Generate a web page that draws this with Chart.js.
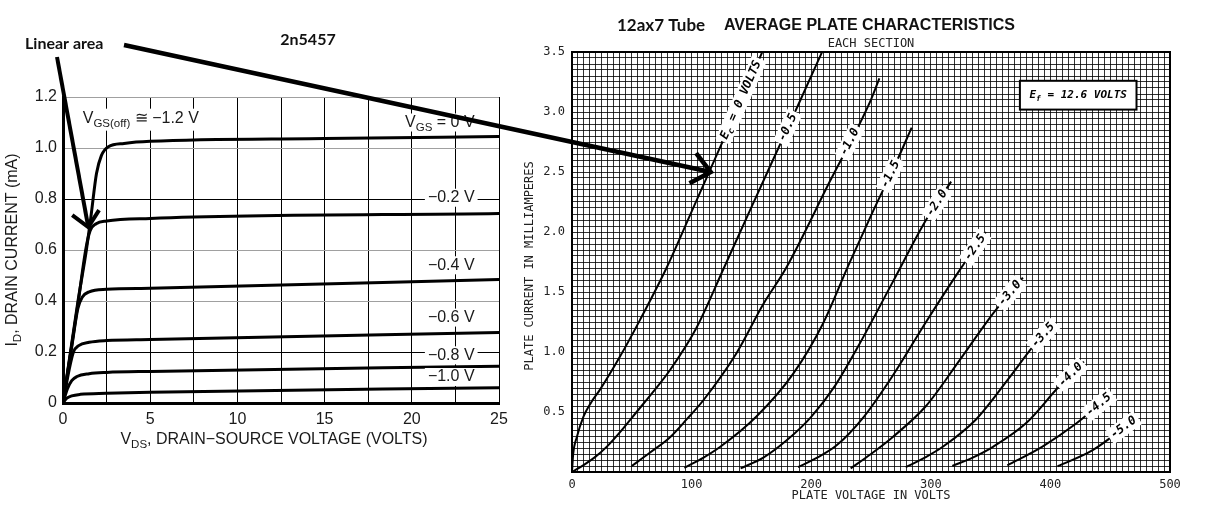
<!DOCTYPE html>
<html>
<head>
<meta charset="utf-8">
<title>2n5457 vs 12ax7</title>
<script src="https://cdn.jsdelivr.net/npm/chart.js@4.4.1/dist/chart.umd.min.js"></script>
<style>
  html, body { margin: 0; padding: 0; background: #fff; }
  #wrap { position: relative; width: 1213px; height: 514px; overflow: hidden; }
  #fetChart { position: absolute; left: 0; top: 0; }
  #tubeChart { position: absolute; left: 520px; top: 0; }
  #overlay { position: absolute; left: 0; top: 0; pointer-events: none; }
</style>
</head>
<body>
<div id="wrap">
  <canvas id="fetChart" width="520" height="514"></canvas>
  <canvas id="tubeChart" width="693" height="514"></canvas>
  <canvas id="overlay" width="1213" height="514"></canvas>
</div>
<script>
// 2n5457 JFET: drain current (mA) against V_DS (volts), one curve per V_GS
const fetVgs = ['0 V', '−0.2 V', '−0.4 V', '−0.6 V', '−0.8 V', '−1.0 V'];
const fetVgs00 = [[0, 0], [0.86, 0.4], [1.34, 0.6], [1.6, 0.73], [1.92, 0.9], [2.2, 0.97], [2.6, 1.005], [3.5, 1.018], [5, 1.026], [15, 1.037], [25, 1.045]];
const fetVgs02 = [[0, 0], [0.86, 0.39], [1.3, 0.6], [1.55, 0.675], [1.9, 0.703], [2.5, 0.714], [5, 0.724], [25, 0.743]];
const fetVgs04 = [[0, 0], [0.5, 0.22], [0.85, 0.37], [1.1, 0.415], [1.5, 0.436], [2.5, 0.446], [5, 0.45], [25, 0.484]];
const fetVgs06 = [[0, 0], [0.35, 0.13], [0.6, 0.2], [0.9, 0.225], [1.5, 0.238], [2.5, 0.245], [5, 0.249], [25, 0.276]];
const fetVgs08 = [[0, 0], [0.25, 0.055], [0.5, 0.088], [0.8, 0.104], [1.5, 0.115], [2.5, 0.12], [5, 0.124], [25, 0.144]];
const fetVgs10 = [[0, 0], [0.2, 0.018], [0.5, 0.028], [1, 0.034], [2.5, 0.038], [5, 0.042], [25, 0.06]];
const fetLabelY = [1.10, 0.805, 0.54, 0.335, 0.187, 0.102];   // where the V_GS labels sit (mA)
const fetXTicks = [0, 5, 10, 15, 20, 25];

// 12ax7: plate current (mA) against plate voltage, one curve per grid voltage
const tubeEc = ['0', '-0.5', '-1.0', '-1.5', '-2.0', '-2.5', '-3.0', '-3.5', '-4.0', '-4.5', '-5.0'];
const tubeEc00 = [[0, 0], [1, 0.15], [4, 0.29], [9.5, 0.46], [16, 0.58], [23, 0.68], [40, 0.96], [57, 1.27], [79, 1.7], [100, 2.17], [120, 2.62], [140, 3.07], [160, 3.52]];
const tubeEc05 = [[0, 0], [10, 0.06], [20, 0.13], [30, 0.22], [40, 0.33], [54, 0.5], [68, 0.67], [82, 0.85], [104, 1.2], [127, 1.7], [147, 2.14], [168, 2.6], [191, 3.1], [210, 3.52]];
const tubeEc10 = [[50, 0.05], [65, 0.16], [82, 0.29], [96, 0.44], [110, 0.6], [137.5, 0.99], [160, 1.4], [179, 1.7], [215, 2.41], [249, 3.08], [257, 3.28]];
const tubeEc15 = [[94, 0.035], [110, 0.12], [124, 0.21], [154, 0.46], [185, 0.82], [210, 1.24], [231, 1.72], [252, 2.18], [272, 2.6], [284, 2.87]];
const tubeEc20 = [[141, 0.03], [160, 0.12], [179, 0.26], [200, 0.46], [220, 0.72], [240, 1.06], [268, 1.58], [296, 2.1], [317, 2.42]];
const tubeEc25 = [[189, 0.04], [205, 0.12], [221, 0.22], [244, 0.46], [268, 0.8], [296, 1.25], [324, 1.68], [346, 2.0]];
const tubeEc30 = [[233, 0.03], [250, 0.15], [268, 0.29], [296, 0.55], [324, 0.93], [352, 1.32], [377, 1.62]];
const tubeEc35 = [[279, 0.04], [295, 0.12], [310, 0.21], [338, 0.44], [366, 0.79], [385, 1.04], [403, 1.24]];
const tubeEc40 = [[318, 0.05], [335, 0.12], [352, 0.21], [380, 0.41], [407, 0.71], [428, 0.92]];
const tubeEc45 = [[364, 0.056], [393, 0.21], [421, 0.4], [449, 0.63]];
const tubeEc50 = [[406, 0.048], [435, 0.18], [468, 0.42]];
const tubeLabelAt = [3.1, 2.87, 2.75, 2.48, 2.24, 1.87, 1.49, 1.14, 0.81, 0.56, 0.37];  // mA where each label sits on its curve

const fetCurves = [fetVgs00, fetVgs02, fetVgs04, fetVgs06, fetVgs08, fetVgs10];
const tubeCurves = [tubeEc00, tubeEc05, tubeEc10, tubeEc15, tubeEc20, tubeEc25, tubeEc30, tubeEc35, tubeEc40, tubeEc45, tubeEc50];

const armFont = '"Liberation Sans", Arial, sans-serif';
const monoFont = '"DejaVu Sans Mono", monospace';
const headFont = 'Lato, "Open Sans", sans-serif';

// text with subscripts: runs = [[text, isSub], ...]
function runsWidth(ctx, runs, size, style, family) {
  let w = 0;
  runs.forEach(r => {
    ctx.font = style + (r[1] ? size * 0.72 : size) + 'px ' + family;
    w += ctx.measureText(r[0]).width;
  });
  return w;
}
function drawRuns(ctx, runs, x, y, size, style, family, align) {
  const total = runsWidth(ctx, runs, size, style, family);
  let cx = align === 'center' ? x - total / 2 : align === 'right' ? x - total : x;
  ctx.textAlign = 'left';
  ctx.textBaseline = 'middle';
  runs.forEach(r => {
    ctx.font = style + (r[1] ? size * 0.72 : size) + 'px ' + family;
    ctx.fillText(r[0], cx, y + (r[1] ? size * 0.32 : 0));
    cx += ctx.measureText(r[0]).width;
  });
  return total;
}
function whiteBox(ctx, x, y, w, h) {
  ctx.fillStyle = '#fff';
  ctx.fillRect(x, y, w, h);
}

const fetText = {
  id: 'fetText',
  afterDatasetsDraw(chart) {
    const { ctx, scales: { x, y }, chartArea } = chart;
    ctx.save();
    // curve labels
    const right = x.getPixelForValue(23.6);
    fetLabelY.forEach((v, i) => {
      const py = y.getPixelForValue(v);
      const runs = i === 0 ? [['V', 0], ['GS', 1], [' = 0 V', 0]] : [[fetVgs[i], 0]];
      const w = runsWidth(ctx, runs, 16, '', armFont);
      whiteBox(ctx, right - w - 3, py - 9, w + 6, 18);
      ctx.fillStyle = '#1a1a1a';
      drawRuns(ctx, runs, right, py, 16, '', armFont, 'right');
    });
    const offRuns = [['V', 0], ['GS(off)', 1], [' ≅ −1.2 V', 0]];
    const ox = x.getPixelForValue(1.13), oy = y.getPixelForValue(1.115);
    const ow = runsWidth(ctx, offRuns, 16, '', armFont);
    whiteBox(ctx, ox - 2, oy - 10, ow + 4, 22);
    ctx.fillStyle = '#1a1a1a';
    drawRuns(ctx, offRuns, ox, oy, 16, '', armFont, 'left');

    // axis titles
    drawRuns(ctx, [['V', 0], ['DS', 1], [', DRAIN−SOURCE VOLTAGE (VOLTS)', 0]], 274, 440, 16, '', armFont, 'center');
    ctx.translate(13, (chartArea.top + chartArea.bottom) / 2);
    ctx.rotate(-Math.PI / 2);
    drawRuns(ctx, [['I', 0], ['D', 1], [', DRAIN CURRENT (mA)', 0]], 0, 0, 16, '', armFont, 'center');
    ctx.restore();

    ctx.save();
    ctx.fillStyle = '#111';
    ctx.font = 'bold 16px ' + headFont;
    ctx.textAlign = 'center';
    ctx.textBaseline = 'middle';
    ctx.fillText('2n5457', 308, 40);
    ctx.restore();
  }
};

const tubeText = {
  id: 'tubeText',
  afterDatasetsDraw(chart) {
    const { ctx, scales: { x, y }, chartArea } = chart;
    ctx.save();
    ctx.strokeStyle = '#000';
    ctx.lineWidth = 2;
    ctx.strokeRect(chartArea.left, chartArea.top, chartArea.right - chartArea.left, chartArea.bottom - chartArea.top);

    // labels written along each curve
    tubeCurves.forEach((pts, i) => {
      const yv = tubeLabelAt[i];
      let k = 1;
      while (k < pts.length - 1 && pts[k][1] < yv) k++;
      const a = pts[k - 1], b = pts[k];
      const xv = a[0] + (yv - a[1]) / (b[1] - a[1]) * (b[0] - a[0]);
      const ang = Math.atan2(y.getPixelForValue(b[1]) - y.getPixelForValue(a[1]),
                             x.getPixelForValue(b[0]) - x.getPixelForValue(a[0]));
      const runs = i === 0 ? [['E', 0], ['c', 1], [' = 0 VOLTS', 0]] : [[tubeEc[i], 0]];
      ctx.save();
      ctx.translate(x.getPixelForValue(xv), y.getPixelForValue(yv));
      ctx.rotate(ang);
      const w = runsWidth(ctx, runs, 12, 'italic bold ', monoFont);
      whiteBox(ctx, -w / 2 - 3, -8, w + 6, 16);
      ctx.fillStyle = '#000';
      drawRuns(ctx, runs, 0, 0, 12, 'italic bold ', monoFont, 'center');
      ctx.restore();
    });

    // filament box
    const bx0 = x.getPixelForValue(374.5), bx1 = x.getPixelForValue(472);
    const by0 = y.getPixelForValue(3.26), by1 = y.getPixelForValue(3.02);
    whiteBox(ctx, bx0, by0, bx1 - bx0, by1 - by0);
    ctx.lineWidth = 2;
    ctx.strokeRect(bx0, by0, bx1 - bx0, by1 - by0);
    ctx.fillStyle = '#000';
    drawRuns(ctx, [['E', 0], ['f', 1], [' = 12.6 VOLTS', 0]], (bx0 + bx1) / 2, (by0 + by1) / 2, 11, 'italic bold ', monoFont, 'center');

    // titles
    ctx.fillStyle = '#222';
    ctx.font = '12px ' + monoFont;
    ctx.textAlign = 'center';
    ctx.textBaseline = 'middle';
    const midX = (chartArea.left + chartArea.right) / 2;
    ctx.fillText('PLATE VOLTAGE IN VOLTS', midX, 496);
    ctx.fillText('EACH SECTION', midX, 44);
    ctx.save();
    ctx.translate(10, (chartArea.top + chartArea.bottom) / 2 + 4);
    ctx.rotate(-Math.PI / 2);
    ctx.fillText('PLATE CURRENT IN MILLIAMPERES', 0, 0);
    ctx.restore();

    ctx.fillStyle = '#111';
    ctx.textAlign = 'left';
    ctx.font = 'bold 17px ' + headFont;
    ctx.fillText('12ax7 Tube', 97, 26);
    ctx.font = 'bold 16px ' + armFont;
    ctx.fillText('AVERAGE PLATE CHARACTERISTICS', 204, 26);
    ctx.restore();
  }
};

const fetChart = new Chart(document.getElementById('fetChart'), {
  type: 'line',
  data: {
    datasets: fetCurves.map((c, i) => ({
      label: fetVgs[i],
      data: c.map(p => ({ x: p[0], y: p[1] })),
      borderColor: '#000',
      borderWidth: 3,
      pointRadius: 0,
      fill: false,
      cubicInterpolationMode: 'monotone'
    }))
  },
  options: {
    responsive: false,
    animation: false,
    events: [],
    layout: { padding: { top: 97, right: 21, left: 0, bottom: 0 } },
    plugins: { legend: { display: false }, tooltip: { enabled: false } },
    scales: {
      x: {
        type: 'linear', min: 0, max: 25,
        afterFit: s => { s.height = 111; },
        ticks: {
          stepSize: 2.5, autoSkip: false, maxRotation: 0, padding: 7,
          color: '#1a1a1a', font: { family: armFont, size: 16 },
          callback: v => (fetXTicks.includes(v) ? v : '')
        },
        grid: { color: '#000', lineWidth: 1, drawTicks: false },
        border: { color: '#000', width: 3 }
      },
      y: {
        min: 0, max: 1.2,
        afterFit: s => { s.width = 63; },
        ticks: {
          stepSize: 0.2, padding: 6,
          color: '#1a1a1a', font: { family: armFont, size: 16 },
          callback: v => (v === 0 ? '0' : v.toFixed(1))
        },
        grid: {
          drawTicks: false, lineWidth: 1,
          color: c => ([0.2, 0.8].some(t => Math.abs(c.tick.value - t) < 1e-6) ? '#000' : '#a0a0a0')
        },
        border: { color: '#000', width: 3 }
      }
    }
  },
  plugins: [fetText]
});

const tubeChart = new Chart(document.getElementById('tubeChart'), {
  type: 'line',
  data: {
    datasets: tubeCurves.map((c, i) => ({
      label: tubeEc[i],
      data: c.map(p => ({ x: p[0], y: p[1] })),
      borderColor: '#000',
      borderWidth: 2,
      pointRadius: 0,
      fill: false,
      cubicInterpolationMode: 'monotone'
    }))
  },
  options: {
    responsive: false,
    animation: false,
    events: [],
    layout: { padding: { top: 52, right: 43, left: 0, bottom: 0 } },
    plugins: { legend: { display: false }, tooltip: { enabled: false } },
    scales: {
      x: {
        type: 'linear', min: 0, max: 500,
        afterFit: s => { s.height = 42; },
        ticks: {
          stepSize: 5, autoSkip: false, maxRotation: 0, padding: 6,
          color: '#222', font: { family: monoFont, size: 12 },
          callback: v => (v % 100 === 0 ? v : '')
        },
        grid: { color: 'rgba(0,0,0,0.8)', lineWidth: 1, drawTicks: false },
        border: { color: '#000', width: 2 }
      },
      y: {
        min: 0, max: 3.5,
        afterFit: s => { s.width = 52; },
        ticks: {
          stepSize: 0.05, autoSkip: false, padding: 7,
          color: '#222', font: { family: monoFont, size: 12 },
          callback: v => {
            const k = Math.round(v * 100);
            return k > 0 && k % 50 === 0 ? (k / 100).toFixed(1) : '';
          }
        },
        grid: { color: 'rgba(0,0,0,0.8)', lineWidth: 1, drawTicks: false },
        border: { color: '#000', width: 2 }
      }
    }
  },
  plugins: [tubeText]
});

// pointers from the "Linear area" note to both charts
function arrow(ctx, x0, y0, x1, y1, width, len, spread) {
  const back = Math.atan2(y0 - y1, x0 - x1);
  ctx.lineWidth = width;
  ctx.beginPath();
  ctx.moveTo(x0, y0);
  ctx.lineTo(x1, y1);
  ctx.stroke();
  ctx.beginPath();
  ctx.moveTo(x1 + len * Math.cos(back - spread), y1 + len * Math.sin(back - spread));
  ctx.lineTo(x1, y1);
  ctx.lineTo(x1 + len * Math.cos(back + spread), y1 + len * Math.sin(back + spread));
  ctx.stroke();
}

const over = document.getElementById('overlay').getContext('2d');
over.fillStyle = '#111';
over.font = 'bold 16px ' + headFont;
over.textBaseline = 'middle';
over.fillText('Linear area', 25, 44);
over.strokeStyle = '#000';
over.lineJoin = 'miter';
arrow(over, 57, 57,
  fetChart.scales.x.getPixelForValue(1.45), fetChart.scales.y.getPixelForValue(0.69), 4, 20, 0.75);
arrow(over, 124, 45,
  520 + tubeChart.scales.x.getPixelForValue(116), tubeChart.scales.y.getPixelForValue(2.5), 4.5, 24, 0.7);
</script>
</body>
</html>
